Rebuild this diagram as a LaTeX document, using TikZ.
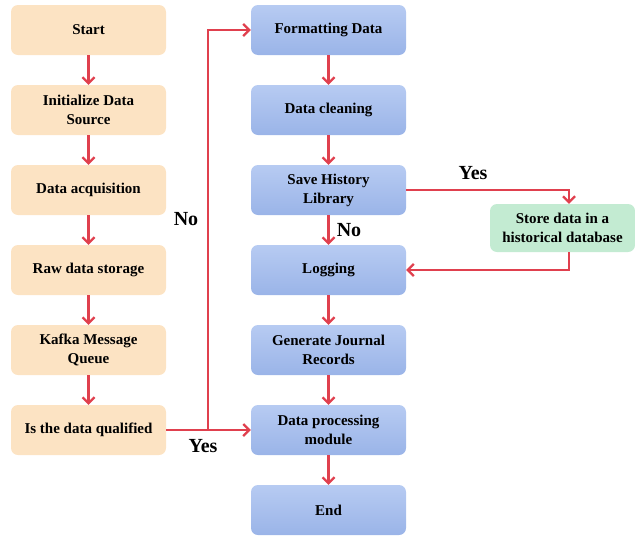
\documentclass[tikz,border=0pt]{standalone}
\usepackage{fontspec}
\setmainfont{Liberation Serif}
\usetikzlibrary{arrows.meta}
\definecolor{peach}{HTML}{FCE3C3}
\definecolor{bluetop}{HTML}{B7CBF2}
\definecolor{bluebot}{HTML}{9AB4E8}
\definecolor{mint}{HTML}{C3EBD2}
\definecolor{flowred}{HTML}{E0404E}
\tikzset{
  x=1pt, y=-1pt,
  base/.style={rounded corners=7pt, minimum width=155pt, minimum height=50pt,
    align=center, font=\fontsize{15}{19}\selectfont\bfseries, inner sep=2pt},
  leftbox/.style={base, fill=peach},
  rightbox/.style={base, top color=bluetop, bottom color=bluebot},
  storebox/.style={base, minimum width=145pt, minimum height=48pt, fill=mint},
  flow/.style={draw=flowred, line width=2.2pt, -{Straight Barb[length=6pt,width=12pt,line width=2.2pt]}},
  lbl/.style={font=\fontsize{20}{24}\selectfont\bfseries}
}
\begin{document}
\begin{tikzpicture}
\useasboundingbox (0,0) rectangle (635,536);
% left column
\node[leftbox] (start) at (88.5,30) {Start};
\node[leftbox] (init) at (88.5,110) {Initialize Data\\Source};
\node[leftbox] (acq) at (88.5,190) {Data acquisition};
\node[leftbox] (raw) at (88.5,270) {Raw data storage};
\node[leftbox] (kafka) at (88.5,350) {Kafka Message\\Queue};
\node[leftbox] (qual) at (88.5,430) {Is the data qualified};
% right column
\node[rightbox] (fmt) at (328.5,30) {Formatting Data};
\node[rightbox] (clean) at (328.5,110) {Data cleaning};
\node[rightbox] (save) at (328.5,190) {Save History\\Library};
\node[rightbox] (log) at (328.5,270) {Logging};
\node[rightbox] (journal) at (328.5,350) {Generate Journal\\Records};
\node[rightbox] (proc) at (328.5,430) {Data processing\\module};
\node[rightbox] (end) at (328.5,510) {End};
% side store
\node[storebox] (store) at (562.5,228) {Store data in a\\historical database};
% connectors
\draw[flow] (start) -- (init);
\draw[flow] (init) -- (acq);
\draw[flow] (acq) -- (raw);
\draw[flow] (raw) -- (kafka);
\draw[flow] (kafka) -- (qual);
\draw[flow] (fmt) -- (clean);
\draw[flow] (clean) -- (save);
\draw[flow] (save) -- (log);
\draw[flow] (log) -- (journal);
\draw[flow] (journal) -- (proc);
\draw[flow] (proc) -- (end);
\draw[flow] (qual) -- (proc);
\coordinate (split) at (208,430);
\draw[flow] (split) |- (fmt);
\draw[flow] (save.east) -| (store.north -| 569,0);
\coordinate (storeout) at (569,252);
\draw[flow] (storeout) |- (log.east);
% labels
\node[lbl] (yes1) at (473,173) {Yes};
\node[lbl] (no1) at (349,230) {No};
\node[lbl] (no2) at (186,219) {No};
\node[lbl] (yes2) at (203,446) {Yes};
\end{tikzpicture}
\end{document}
